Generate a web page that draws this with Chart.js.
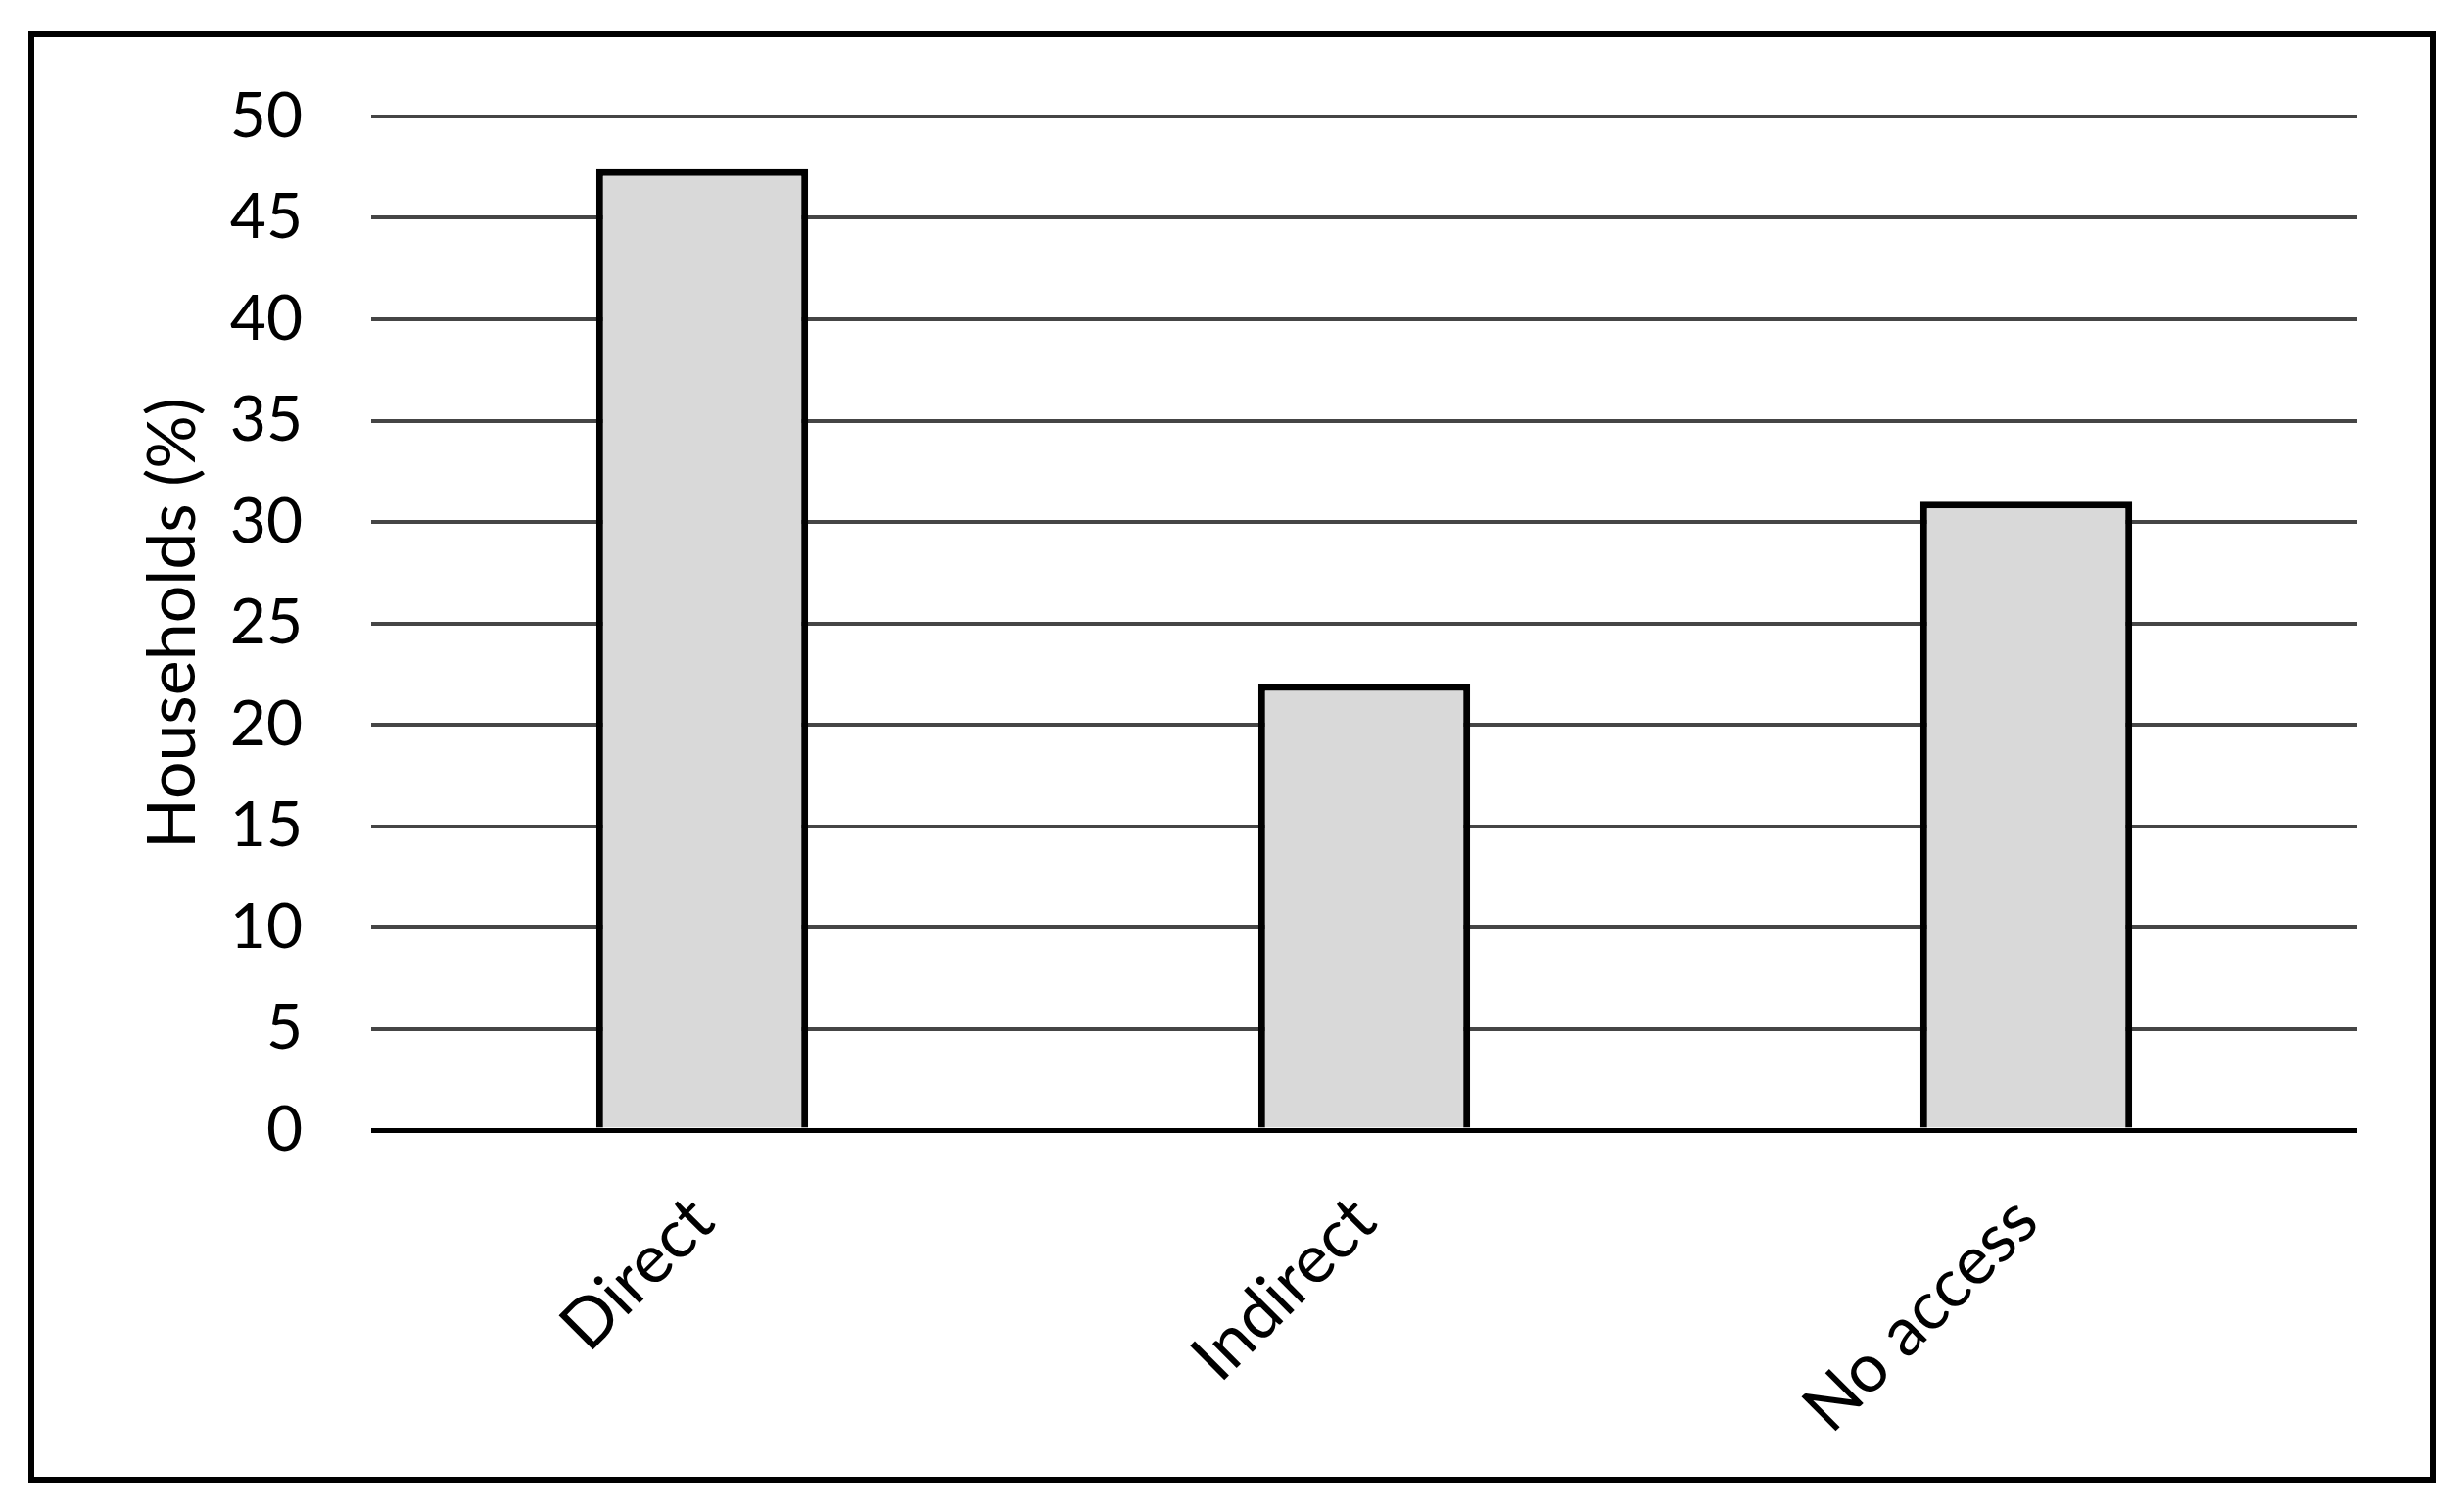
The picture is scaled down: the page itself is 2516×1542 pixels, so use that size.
<!DOCTYPE html>
<html>
<head>
<meta charset="utf-8">
<script src="https://cdn.jsdelivr.net/npm/chart.js@4"></script>
<style>
  html, body { margin: 0; padding: 0; background: #fff; }
  #frame {
    position: absolute; left: 29px; top: 32px;
    width: 2446px; height: 1470px;
    border: 6px solid #000;
  }
  #wrap { position: absolute; left: 0; top: 0; width: 2516px; height: 1542px; }
</style>
</head>
<body>
<div id="frame"></div>
<div id="wrap"><canvas id="chart"></canvas></div>
<script>
// Toegang van huishoudens
const categorieen = ['Direct', 'Indirect', 'No access'];
const huishoudens = [47.4, 22.0, 31.0];
const yTicks = [0, 5, 10, 15, 20, 25, 30, 35, 40, 45, 50];

const lettertype = 'Lato';

const ctx = document.getElementById('chart').getContext('2d');
new Chart(ctx, {
    type: 'bar',
    data: {
        labels: categorieen,
        datasets: [{
            data: huishoudens,
            backgroundColor: '#d9d9d9',
            borderColor: '#000000',
            borderWidth: 7,
            borderSkipped: 'bottom',
            categoryPercentage: 1,
            barPercentage: 0.32
        }]
    },
    options: {
        responsive: true,
        maintainAspectRatio: false,
        animation: false,
        layout: { padding: { left: 0, top: 119, right: 109, bottom: 0 } },
        scales: {
            x: {
                grid: { display: false },
                border: { display: false },
                ticks: {
                    color: '#000',
                    maxRotation: 45,
                    minRotation: 45,
                    padding: 44,
                    font: { family: lettertype, size: 69 }
                },
                afterFit: s => { s.height = 388; }
            },
            y: {
                min: 0,
                max: 50,
                afterBuildTicks: s => { s.ticks = yTicks.map(v => ({ value: v })); },
                border: { display: false },
                grid: {
                    drawTicks: false,
                    color: c => c.tick && c.tick.value === 0 ? '#000' : '#454545',
                    lineWidth: c => c.tick && c.tick.value === 0 ? 5 : 4
                },
                ticks: {
                    color: '#000',
                    padding: 70,
                    font: { family: lettertype, size: 64 }
                },
                title: {
                    display: true,
                    text: 'Households (%)',
                    color: '#000',
                    padding: { top: 136, bottom: 0 },
                    font: { family: lettertype, size: 68, lineHeight: 1.2 }
                },
                afterFit: s => { s.width = 379; }
            }
        },
        plugins: {
            legend: { display: false },
            tooltip: { enabled: false }
        }
    }
});
</script>
</body>
</html>
